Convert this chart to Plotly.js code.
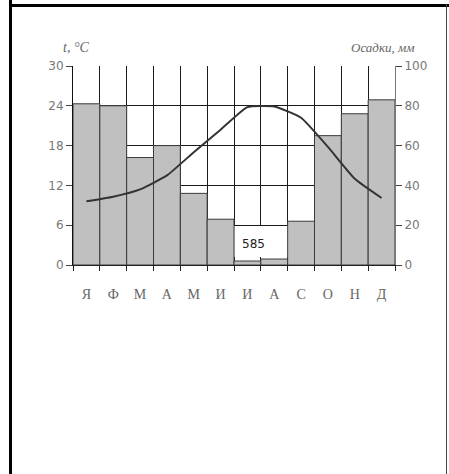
<!DOCTYPE html>
<html>
<head>
<meta charset="utf-8">
<script src="https://cdn.plot.ly/plotly-3.0.1.min.js"></script>
<style>
  html, body { margin: 0; padding: 0; background: #fff; }
  #wrap { position: relative; width: 449px; height: 474px; overflow: hidden; }
  #chart { position: absolute; left: 0; top: 0; width: 449px; height: 474px; }
  .fr { position: absolute; background: #000; }
</style>
</head>
<body>
<div id="wrap">
  <div id="chart"></div>
  <div class="fr" style="left:9px; top:0px; width:3px; height:474px;"></div>
  <div class="fr" style="left:9px; top:4px; width:440px; height:3px;"></div>
  <div class="fr" style="left:446px; top:4px; width:1px; height:470px; background:#444;"></div>
</div>
<script>
// Data
const months = ['Я', 'Ф', 'М', 'А', 'М', 'И', 'И', 'А', 'С', 'О', 'Н', 'Д'];
const precipitation = [81, 80, 54, 60, 36, 23, 2, 3, 22, 65, 76, 83]; // мм
const temperature = [9.6, 10.3, 11.4, 13.5, 17.0, 20.4, 23.8, 23.9, 22.2, 17.8, 13.0, 10.1]; // °C
const totalLabel = '585';
const tempTicks = [0, 6, 12, 18, 24, 30];
const precTicks = [0, 20, 40, 60, 80, 100];

const idx = months.map((m, i) => i);
const bounds = months.map((m, i) => i - 0.5).concat([months.length - 0.5]);

const traces = [
  {
    type: 'bar',
    x: idx,
    y: precipitation,
    xaxis: 'x',
    yaxis: 'y',
    width: 1,
    marker: { color: '#c0c0c0', line: { color: '#3a3a3a', width: 1 } },
    hoverinfo: 'skip'
  },
  {
    type: 'scatter',
    mode: 'lines',
    x: idx,
    y: temperature,
    xaxis: 'x',
    yaxis: 'y2',
    line: { color: '#333333', width: 2, shape: 'spline', smoothing: 0.45 },
    hoverinfo: 'skip'
  }
];

const layout = {
  width: 449,
  height: 474,
  margin: { l: 73, r: 54, t: 66, b: 209, pad: 0 },
  paper_bgcolor: '#ffffff',
  plot_bgcolor: '#ffffff',
  showlegend: false,
  bargap: 0,
  xaxis: {
    range: [-0.5, 11.5],
    tickmode: 'array',
    tickvals: idx,
    ticktext: months,
    ticks: '',
    showgrid: false,
    zeroline: false,
    showline: true,
    linecolor: '#222',
    linewidth: 1,
    ticklabelstandoff: 16,
    tickfont: { family: 'Liberation Serif, serif', size: 14, color: '#666' },
    minor: {
      tickmode: 'array',
      tickvals: bounds,
      ticks: 'outside',
      ticklen: 5,
      tickcolor: '#222',
      showgrid: true,
      gridcolor: '#1a1a1a',
      gridwidth: 1
    },
    fixedrange: true
  },
  yaxis: {
    side: 'right',
    range: [0, 100],
    tickmode: 'array',
    tickvals: precTicks,
    ticks: 'outside',
    ticklen: 6,
    tickcolor: '#444',
    showgrid: true,
    gridcolor: '#1a1a1a',
    gridwidth: 1,
    zeroline: false,
    showline: true,
    linecolor: '#777',
    tickfont: { family: 'DejaVu Sans, sans-serif', size: 12, color: '#777' },
    fixedrange: true
  },
  yaxis2: {
    overlaying: 'y',
    side: 'left',
    range: [0, 30],
    tickmode: 'array',
    tickvals: tempTicks,
    ticks: 'outside',
    ticklen: 6,
    tickcolor: '#444',
    showgrid: false,
    zeroline: false,
    showline: true,
    linecolor: '#111',
    tickfont: { family: 'DejaVu Sans, sans-serif', size: 12, color: '#777' },
    fixedrange: true
  },
  shapes: [
    {
      type: 'rect', layer: 'above',
      xref: 'x', yref: 'y',
      x0: 5.52, x1: 7.48, y0: 4, y1: 19.6,
      fillcolor: '#ffffff', line: { width: 0 }
    }
  ],
  annotations: [
    {
      text: totalLabel,
      xref: 'x', yref: 'y',
      x: 6.23, y: 10.6,
      xanchor: 'center', yanchor: 'middle',
      showarrow: false,
      font: { family: 'DejaVu Sans, sans-serif', size: 12, color: '#222' }
    },
    {
      text: '<i>t, °C</i>',
      xref: 'paper', yref: 'paper',
      x: (76 - 73) / 322, y: (265 - 47.5) / 199,
      xanchor: 'center', yanchor: 'middle',
      showarrow: false,
      font: { family: 'Liberation Serif, serif', size: 14, color: '#666' }
    },
    {
      text: '<i>Осадки, мм</i>',
      xref: 'paper', yref: 'paper',
      x: (383 - 73) / 322, y: (265 - 47.5) / 199,
      xanchor: 'center', yanchor: 'middle',
      showarrow: false,
      font: { family: 'Liberation Serif, serif', size: 13, color: '#666' }
    }
  ]
};

Plotly.newPlot('chart', traces, layout, { staticPlot: true, displayModeBar: false });
</script>
</body>
</html>
